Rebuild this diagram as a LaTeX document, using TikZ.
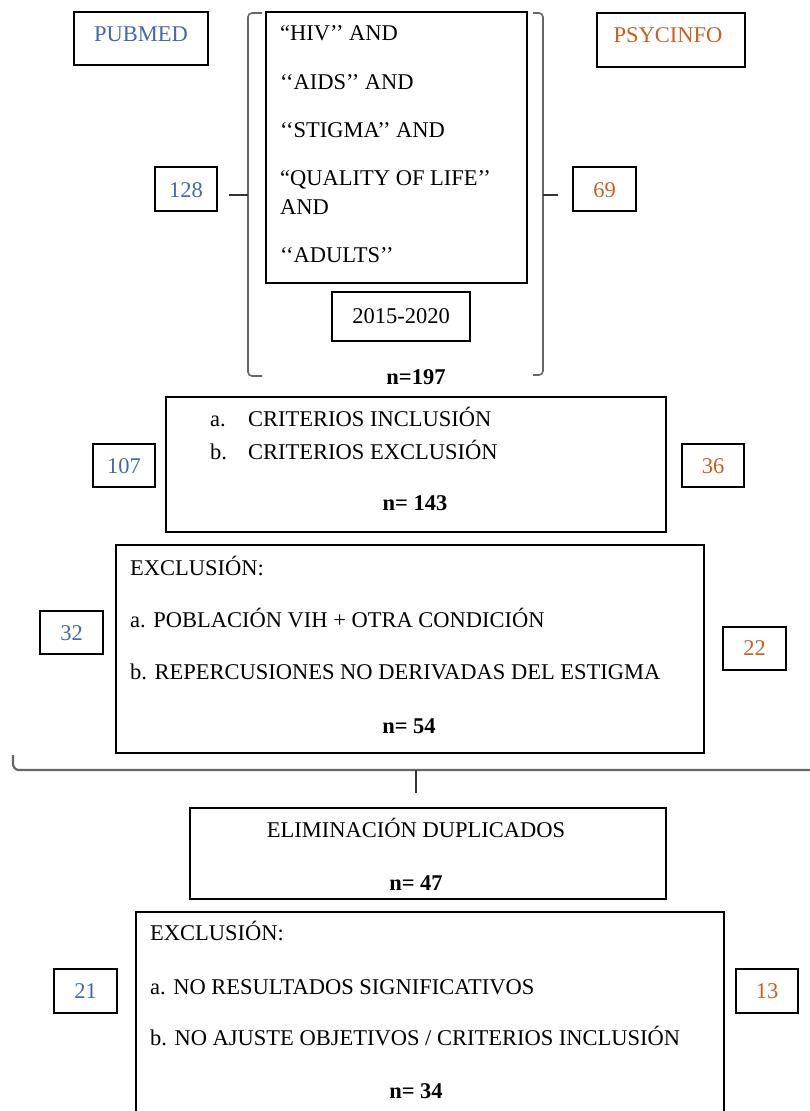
\documentclass[tikz,border=0pt]{standalone}
\usepackage{fontspec}
\setmainfont{Liberation Serif}
\usetikzlibrary{fit}
\definecolor{pblue}{HTML}{4169B0}
\definecolor{porange}{HTML}{C9601E}
\definecolor{brgray}{HTML}{666666}
\begin{document}
\begin{tikzpicture}[x=1pt,y=-1pt,
  box/.style={draw=black,line width=1.3pt,inner sep=0pt},
  lbl/.style={inner sep=0pt,text height=15pt,text depth=0pt,font=\fontsize{22.5}{27}\selectfont},
  nlbl/.style={lbl,font=\fontsize{22.5}{27}\selectfont\bfseries},
  lft/.style={lbl,anchor=west},
  brace/.style={draw=brgray,line width=1.6pt,rounded corners=4pt},
  bbrace/.style={draw=brgray,line width=2.2pt,rounded corners=6pt},
  stem/.style={draw=black!80,line width=1.6pt}]
\fill[white] (0,0) rectangle (810,1111);
\useasboundingbox (0,0) rectangle (810,1111);

% top sources
\node[box,fit={(74,12)(208,65)}] (pubmed) {};
\node[lbl,text=pblue] (pubmedt) at (141,34) {PUBMED};
\node[box,fit={(597,13)(745,67)}] (psyc) {};
\node[lbl,text=porange] (psyct) at (668,35) {PSYCINFO};

% search terms
\node[box,fit={(266,12)(527,283)}] (terms) {};
\node[lft] (t1) at (280,33) {“HIV’’ AND};
\node[lft] (t2) at (280,82) {‘‘AIDS’’ AND};
\node[lft] (t3) at (280,130) {‘‘STIGMA’’ AND};
\node[lft] (t4) at (280,178) {“QUALITY OF LIFE’’};
\node[lft] (t5) at (280,207) {AND};
\node[lft] (t6) at (280,255) {‘‘ADULTS’’};
\node[box,fit={(332,292)(470,341)}] (years) {};
\node[lbl] (yearst) at (401,316) {2015-2020};
\node[nlbl] (n197) at (416,377) {n=197};

\node[box,fit={(155,167)(217,211)}] (b128) {};
\node[lbl,text=pblue] (b128t) at (186,190) {128};
\node[box,fit={(573,167)(636,211)}] (b69) {};
\node[lbl,text=porange] (b69t) at (604.5,190) {69};

% braces
\coordinate (lstem) at (229,195);
\coordinate (ltip) at (248,195);
\coordinate (rstem) at (558,195);
\coordinate (rtip) at (543,195);
\draw[brace] (262,13) -- (248,13) -- (248,376) -- (262,376);
\draw[stem] (lstem) -- (ltip);
\draw[brace] (533,13) -- (543,13) -- (543,375) -- (533,375);
\draw[stem] (rtip) -- (rstem);

% criteria
\node[box,fit={(166,397)(666,532)}] (crit) {};
\node[lft] (ca) at (210,419) {a.};
\node[lft] (cat) at (248,419) {CRITERIOS INCLUSIÓN};
\node[lft] (cb) at (210,452) {b.};
\node[lft] (cbt) at (248,452) {CRITERIOS EXCLUSIÓN};
\node[nlbl] (n143) at (415,503) {n= 143};
\node[box,fit={(93,444)(155,487)}] (b107) {};
\node[lbl,text=pblue] (b107t) at (124,466) {107};
\node[box,fit={(682,444)(744,487)}] (b36) {};
\node[lbl,text=porange] (b36t) at (713,466) {36};

% exclusion 1
\node[box,fit={(116,545)(704,753)}] (exc1) {};
\node[lft] (e1h) at (130,568) {EXCLUSIÓN:};
\node[lft] (e1a) at (130,620) {a. POBLACIÓN VIH + OTRA CONDICIÓN};
\node[lft] (e1b) at (130,672) {b. REPERCUSIONES NO DERIVADAS DEL ESTIGMA};
\node[nlbl] (n54) at (409,726) {n= 54};
\node[box,fit={(40,611)(103,654)}] (b32) {};
\node[lbl,text=pblue] (b32t) at (71.5,633) {32};
\node[box,fit={(723,627)(786,670)}] (b22) {};
\node[lbl,text=porange] (b22t) at (754.5,648) {22};

% bottom brace
\coordinate (bbl) at (13,755);
\coordinate (bbr) at (812,770);
\coordinate (bbtip) at (416,770);
\coordinate (bbstem) at (416,793);
\draw[bbrace] (bbl) -- (13,770) -- (bbr);
\draw[stem,line width=2pt] (bbtip) -- (bbstem);

% duplicates
\node[box,fit={(190,808)(666,899)}] (dup) {};
\node[lbl] (dupt) at (416,830) {ELIMINACIÓN DUPLICADOS};
\node[nlbl] (n47) at (416,883) {n= 47};

% exclusion 2
\node[box,fit={(136,912)(724,1130)}] (exc2) {};
\node[lft] (e2h) at (150,933) {EXCLUSIÓN:};
\node[lft] (e2a) at (150,987) {a. NO RESULTADOS SIGNIFICATIVOS};
\node[lft] (e2b) at (150,1038) {b. NO AJUSTE OBJETIVOS / CRITERIOS INCLUSIÓN};
\node[nlbl] (n34) at (416,1091) {n= 34};
\node[box,fit={(54,969)(117,1013)}] (b21) {};
\node[lbl,text=pblue] (b21t) at (85.5,991) {21};
\node[box,fit={(736,969)(798,1013)}] (b13) {};
\node[lbl,text=porange] (b13t) at (767,991) {13};
\end{tikzpicture}
\end{document}
